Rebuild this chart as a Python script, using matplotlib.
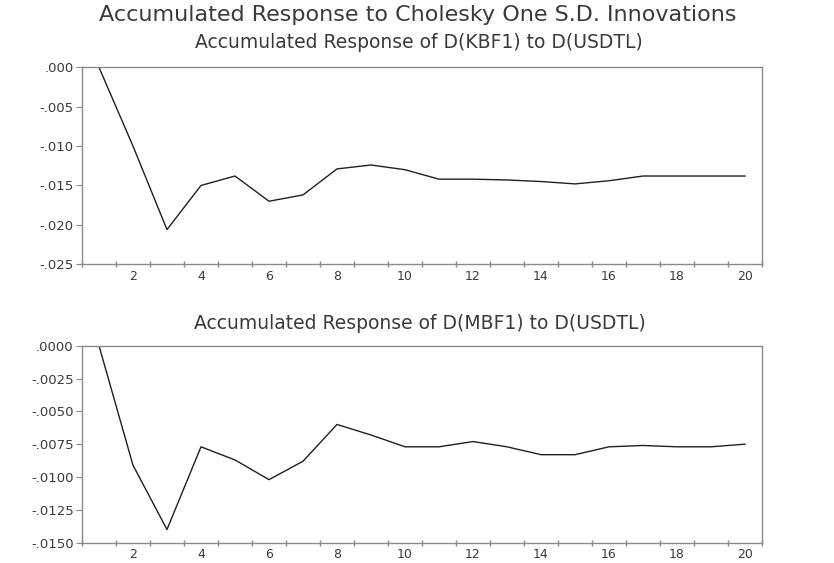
import matplotlib.pyplot as plt

plt.rcParams['font.family'] = ['DejaVu Sans']

# horizon and accumulated responses
periods = list(range(1, 21))
kbf1 = [0.0, -0.0100, -0.0206, -0.0150, -0.0138, -0.0170, -0.0162, -0.0129,
        -0.0124, -0.0130, -0.0142, -0.0142, -0.0143, -0.0145, -0.0148,
        -0.0144, -0.0138, -0.0138, -0.0138, -0.0138]
mbf1 = [0.0, -0.0091, -0.0140, -0.0077, -0.0087, -0.0102, -0.0088, -0.0060,
        -0.0068, -0.0077, -0.0077, -0.0073, -0.0077, -0.0083, -0.0083,
        -0.0077, -0.0076, -0.0077, -0.0077, -0.0075]

kbf1_yticks = [0.0, -0.005, -0.010, -0.015, -0.020, -0.025]
kbf1_ylabels = ['.000', '-.005', '-.010', '-.015', '-.020', '-.025']
mbf1_yticks = [0.0, -0.0025, -0.0050, -0.0075, -0.0100, -0.0125, -0.0150]
mbf1_ylabels = ['.0000', '-.0025', '-.0050', '-.0075', '-.0100', '-.0125', '-.0150']
xlabels = [2, 4, 6, 8, 10, 12, 14, 16, 18, 20]

title = 'Accumulated Response to Cholesky One S.D. Innovations'
sub1 = 'Accumulated Response of D(KBF1) to D(USDTL)'
sub2 = 'Accumulated Response of D(MBF1) to D(USDTL)'

txt = '#3a3a3a'
frame = '#8a8a8a'

fig = plt.figure(figsize=(8.34, 5.63), dpi=100)
ax1 = fig.add_axes([0.0983, 0.5306, 0.8154, 0.3499])
ax2 = fig.add_axes([0.0983, 0.0361, 0.8154, 0.3499])

for ax, y, ticks, labels in [(ax1, kbf1, kbf1_yticks, kbf1_ylabels),
                             (ax2, mbf1, mbf1_yticks, mbf1_ylabels)]:
    ax.plot(periods, y, color='#202020', lw=1.0)
    ax.set_xlim(0.5, 20.5)
    ax.set_ylim(min(ticks), 0)
    ax.set_yticks(ticks)
    ax.set_yticklabels(labels)
    # ticks sit between periods, labels on even periods
    ax.set_xticks([i + 0.5 for i in range(0, 21)], minor=True)
    ax.set_xticks(xlabels)
    ax.set_xticklabels([str(v) for v in xlabels])
    ax.tick_params(axis='x', which='major', length=0, pad=4,
                   labelsize=9, labelcolor=txt)
    ax.tick_params(axis='x', which='minor', direction='inout', length=5,
                   color=frame, width=1)
    ax.tick_params(axis='y', direction='out', length=4, color=frame,
                   labelsize=9.5, labelcolor=txt, pad=2)
    for s in ax.spines.values():
        s.set_color(frame)
        s.set_linewidth(1.0)

fig.text(0.5006, 0.974, title, ha='center', va='center', fontsize=16, color=txt)
fig.text(0.5018, 0.925, sub1, ha='center', va='center', fontsize=13.5, color=txt)
fig.text(0.5036, 0.426, sub2, ha='center', va='center', fontsize=13.5, color=txt)

fig.savefig('out.png', dpi=100)
